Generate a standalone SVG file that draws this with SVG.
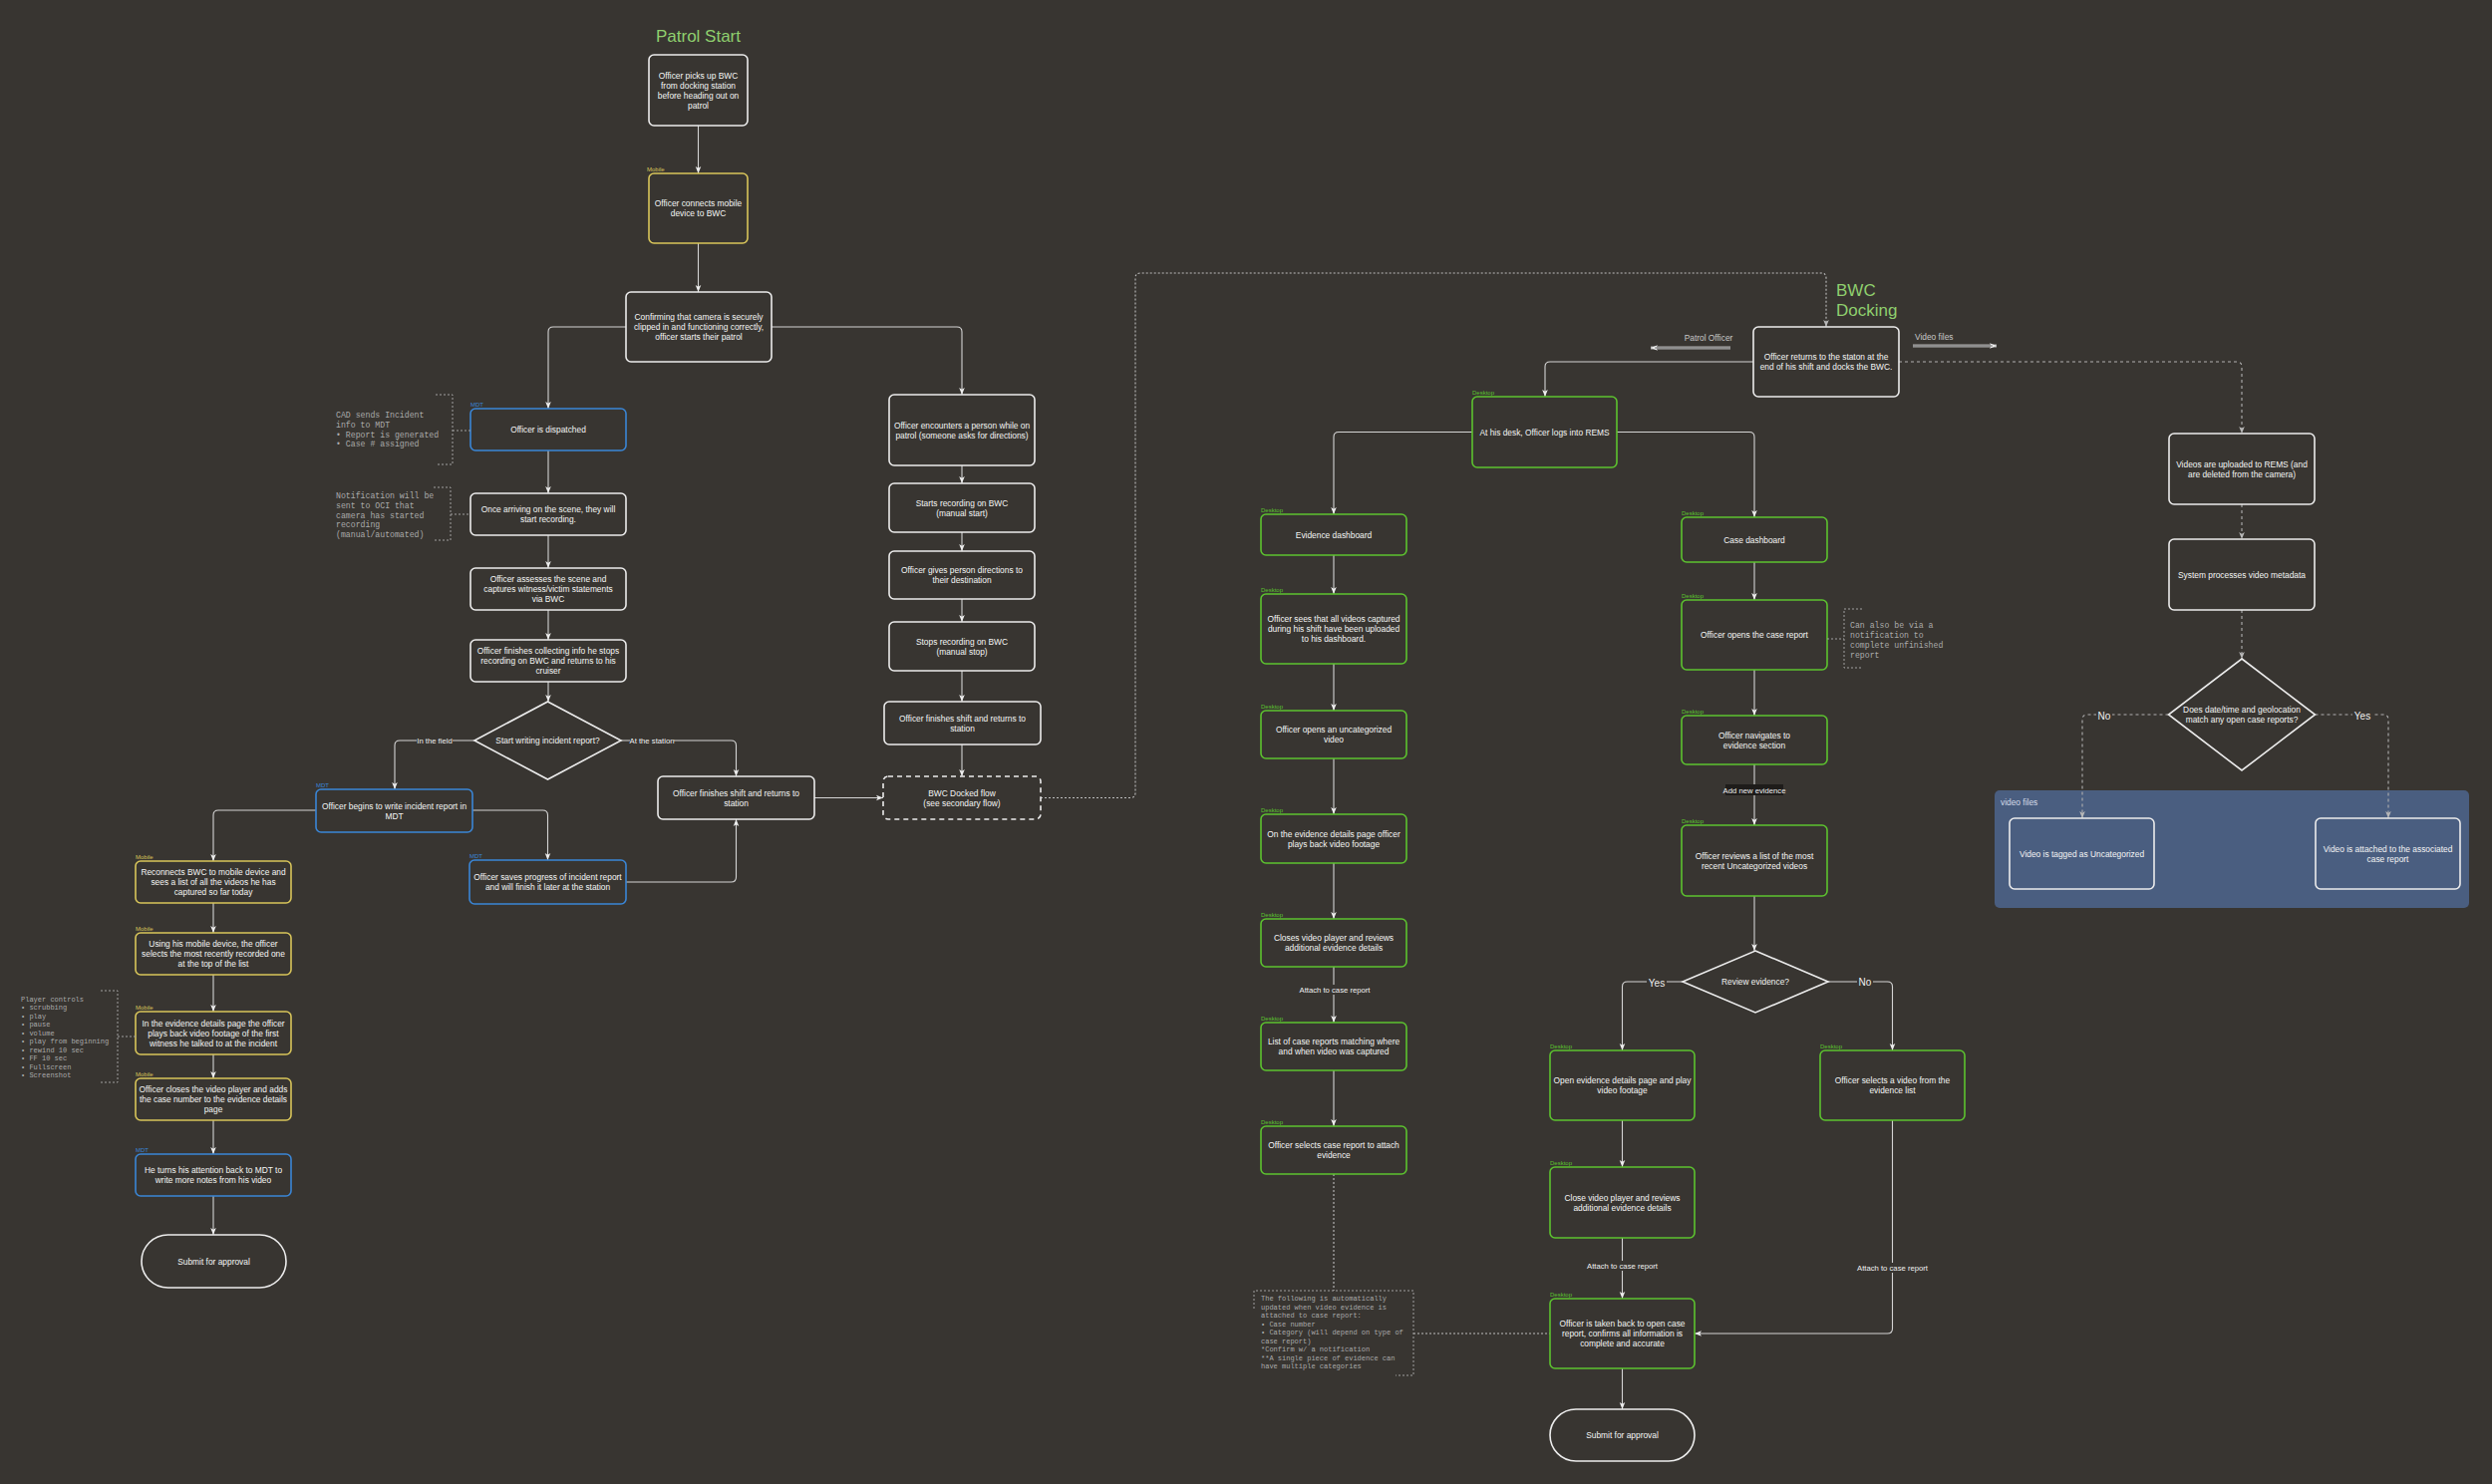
<svg xmlns="http://www.w3.org/2000/svg" width="2500" height="1489" viewBox="0 0 2500 1489">
<defs>
<marker id="a" viewBox="0 0 10 10" refX="10" refY="5" markerWidth="7" markerHeight="7" markerUnits="userSpaceOnUse" orient="auto"><path d="M0,1 L10,5 L0,9 L2.5,5 z" fill="#eeeeee"/></marker>
<marker id="ag" viewBox="0 0 10 10" refX="10" refY="5" markerWidth="7" markerHeight="7" markerUnits="userSpaceOnUse" orient="auto"><path d="M0,1 L10,5 L0,9 L2.5,5 z" fill="#b8b8b8"/></marker>
<style>
text{font-family:"Liberation Sans",Arial,sans-serif}
.t{fill:#f5f5f5;font-size:8.4px;text-anchor:middle}
.r{fill:none;stroke-width:1.6}
.w{stroke:#ececec}
.y{stroke:#d8c55a}
.b{stroke:#3a86d6}
.g{stroke:#5cc22f}
.lb{font-size:6px}
.ly{fill:#d8c55a}
.lbb{fill:#3a86d6}
.lg{fill:#5cc22f}
.c{fill:none;stroke:#d4d4d4;stroke-width:1.1}
.d{fill:none;stroke:#bdbdbd;stroke-width:1.1;stroke-dasharray:2 2}
.d3{fill:none;stroke:#b0b0b0;stroke-width:1.1;stroke-dasharray:3 3}
.nt{fill:#aaaaaa;font-family:"Liberation Mono","Courier New",monospace;font-size:8.2px}
.ns{fill:#aaaaaa;font-family:"Liberation Mono","Courier New",monospace;font-size:7px}
.nb{fill:none;stroke:#a0a0a0;stroke-width:1;stroke-dasharray:2 2}
.el{fill:#f0f0f0;font-size:7.7px;text-anchor:middle}
.yn{fill:#f0f0f0;font-size:10px;text-anchor:middle}
.ttl{fill:#8fcf6e;font-size:17px}
</style>
</defs>
<rect width="2500" height="1489" fill="#383531"/>

<text class="ttl" x="700.5" y="42" text-anchor="middle">Patrol Start</text>
<text class="ttl" x="1842"><tspan x="1842" y="297">BWC</tspan><tspan x="1842" y="317">Docking</tspan></text>

<g id="container-video-files">
<rect x="2001" y="793" width="476" height="118" rx="5" fill="#4a5e80"/>
<text x="2007" y="808" fill="#d6dcea" font-size="8.4px">video files</text>
</g>

<g id="connectors">
<path class="c" marker-end="url(#a)" d="M700.5,126 V174"/>
<path class="c" marker-end="url(#a)" d="M700.5,244 V293"/>
<path class="c" marker-end="url(#a)" d="M628,328 H555 Q550,328 550,333 V410"/>
<path class="c" marker-end="url(#a)" d="M774,328 H960 Q965,328 965,333 V396"/>
<path class="c" marker-end="url(#a)" d="M550,452 V495"/>
<path class="c" marker-end="url(#a)" d="M550,537 V570"/>
<path class="c" marker-end="url(#a)" d="M550,612 V642"/>
<path class="c" marker-end="url(#a)" d="M550,684 V704"/>
<path class="c" marker-end="url(#a)" d="M476,743 H401 Q396,743 396,748 V792"/>
<path class="c" marker-end="url(#a)" d="M623,743 H733.5 Q738.5,743 738.5,748 V779"/>
<path class="c" marker-end="url(#a)" d="M474,813 H544.5 Q549.5,813 549.5,818 V863"/>
<path class="c" marker-end="url(#a)" d="M628,885 H733.5 Q738.5,885 738.5,880 V822"/>
<path class="c" marker-end="url(#a)" d="M817,800.5 H886"/>
<path class="c" marker-end="url(#a)" d="M317,813 H219 Q214,813 214,818 V864"/>
<path class="c" marker-end="url(#a)" d="M214,906 V936"/>
<path class="c" marker-end="url(#a)" d="M214,978 V1015"/>
<path class="c" marker-end="url(#a)" d="M214,1058 V1082"/>
<path class="c" marker-end="url(#a)" d="M214,1124 V1158"/>
<path class="c" marker-end="url(#a)" d="M214,1200 V1239"/>
<path class="c" marker-end="url(#a)" d="M965,467 V485"/>
<path class="c" marker-end="url(#a)" d="M965,534 V553"/>
<path class="c" marker-end="url(#a)" d="M965,601 V624"/>
<path class="c" marker-end="url(#a)" d="M965,673 V704"/>
<path class="c" marker-end="url(#a)" d="M965,747 V779"/>
<path class="d" marker-end="url(#ag)" d="M1044,800.5 H1134 Q1139,800.5 1139,795.5 V279 Q1139,274 1144,274 H1827 Q1832,274 1832,279 V328"/>
<path class="c" marker-end="url(#a)" d="M1759,363 H1555 Q1550,363 1550,368 V398"/>
<path class="d3" marker-end="url(#ag)" d="M1905,363 H2244 Q2249,363 2249,368 V435"/>
<path class="c" marker-end="url(#a)" d="M1477,433.5 H1343 Q1338,433.5 1338,438.5 V516"/>
<path class="c" marker-end="url(#a)" d="M1622,433.5 H1755 Q1760,433.5 1760,438.5 V519"/>
<path class="c" marker-end="url(#a)" d="M1338,557 V596"/>
<path class="c" marker-end="url(#a)" d="M1338,666 V713"/>
<path class="c" marker-end="url(#a)" d="M1338,761 V817"/>
<path class="c" marker-end="url(#a)" d="M1338,866 V922"/>
<path class="c" marker-end="url(#a)" d="M1338,970 V1026"/>
<path class="c" marker-end="url(#a)" d="M1338,1074 V1130"/>
<path class="d" d="M1338,1178 V1295"/>
<path class="d" d="M1418,1338 H1555"/>
<path class="c" marker-end="url(#a)" d="M1760,564 V602"/>
<path class="c" marker-end="url(#a)" d="M1760,672 V718"/>
<path class="c" marker-end="url(#a)" d="M1760,767 V828"/>
<path class="c" marker-end="url(#a)" d="M1760,899 V954"/>
<path class="c" marker-end="url(#a)" d="M1688,985 H1632.5 Q1627.5,985 1627.5,990 V1054"/>
<path class="c" marker-end="url(#a)" d="M1834,985 H1893.5 Q1898.5,985 1898.5,990 V1054"/>
<path class="c" marker-end="url(#a)" d="M1627.5,1124 V1171"/>
<path class="c" marker-end="url(#a)" d="M1627.5,1242 V1303"/>
<path class="c" marker-end="url(#a)" d="M1898.5,1124 V1333 Q1898.5,1338 1893.5,1338 H1700"/>
<path class="c" marker-end="url(#a)" d="M1627.5,1373 V1414"/>
<path class="d3" marker-end="url(#ag)" d="M2249,506 V541"/>
<path class="d3" marker-end="url(#ag)" d="M2249,612 V661"/>
<path class="d3" marker-end="url(#ag)" d="M2175.5,717 H2094 Q2089,717 2089,722 V821"/>
<path class="d3" marker-end="url(#ag)" d="M2322.5,717 H2391 Q2396,717 2396,722 V821"/>
<path fill="none" stroke="#b0b0b0" stroke-width="3" marker-end="url(#a)" d="M1736,349 H1656"/>
<path fill="none" stroke="#606060" stroke-width="0.8" d="M1736,349 H1660"/>
<path fill="none" stroke="#b0b0b0" stroke-width="3" marker-end="url(#a)" d="M1919,347 H2003"/>
<path fill="none" stroke="#606060" stroke-width="0.8" d="M1919,347 H1999"/>
<g>
<rect x="418" y="738" width="36" height="10" fill="#383531"/>
<text class="el" x="436" y="745.5">In the field</text>
<rect x="632" y="738" width="44" height="10" fill="#383531"/>
<text class="el" x="654" y="745.5">At the station</text>
<rect x="1303" y="988" width="72" height="10" fill="#383531"/>
<text class="el" x="1339" y="995.5">Attach to case report</text>
<rect x="1591" y="1265" width="73" height="10" fill="#383531"/>
<text class="el" x="1627.5" y="1272.5">Attach to case report</text>
<rect x="1862" y="1267" width="73" height="10" fill="#383531"/>
<text class="el" x="1898.5" y="1274.5">Attach to case report</text>
<rect x="1731" y="787" width="58" height="11" fill="#1e1c1a"/>
<text class="el" x="1760" y="795.5">Add new evidence</text>
<rect x="1652" y="980" width="20" height="12" fill="#383531"/>
<text class="yn" x="1662" y="990">Yes</text>
<rect x="1863" y="979" width="16" height="12" fill="#383531"/>
<text class="yn" x="1871" y="989">No</text>
<rect x="2103" y="712" width="16" height="12" fill="#383531"/>
<text class="yn" x="2111" y="722">No</text>
<rect x="2360" y="712" width="20" height="12" fill="#383531"/>
<text class="yn" x="2370" y="722">Yes</text>
<text x="1714" y="342" fill="#c8c8c8" font-size="8.4px" text-anchor="middle">Patrol Officer</text>
<text x="1921" y="341" fill="#c8c8c8" font-size="8.4px">Video files</text>
</g>
</g>

<g id="n1"><rect class="r w" x="651" y="55" width="99" height="71" rx="5"/><text class="t"><tspan x="700.5" y="78.5">Officer picks up BWC</tspan><tspan x="700.5" y="88.5">from docking station</tspan><tspan x="700.5" y="98.5">before heading out on</tspan><tspan x="700.5" y="108.5">patrol</tspan></text></g>
<g id="n2"><text class="lb ly" x="649" y="172">Mobile</text><rect class="r y" x="651" y="174" width="99" height="70" rx="5"/><text class="t"><tspan x="700.5" y="207">Officer connects mobile</tspan><tspan x="700.5" y="217">device to BWC</tspan></text></g>
<g id="n3"><rect class="r w" x="628" y="293" width="146" height="70" rx="5"/><text class="t"><tspan x="701" y="321">Confirming that camera is securely</tspan><tspan x="701" y="331">clipped in and functioning correctly,</tspan><tspan x="701" y="341">officer starts their patrol</tspan></text></g>
<g id="dispatched"><text class="lb lbb" x="472" y="408">MDT</text><rect class="r b" x="472" y="410" width="156" height="42" rx="5"/><text class="t" x="550" y="434">Officer is dispatched</text></g>
<g id="arriving"><rect class="r w" x="472" y="495" width="156" height="42" rx="5"/><text class="t"><tspan x="550" y="514">Once arriving on the scene, they will</tspan><tspan x="550" y="524">start recording.</tspan></text></g>
<g id="assess"><rect class="r w" x="472" y="570" width="156" height="42" rx="5"/><text class="t"><tspan x="550" y="584">Officer assesses the scene and</tspan><tspan x="550" y="594">captures witness/victim statements</tspan><tspan x="550" y="604">via BWC</tspan></text></g>
<g id="collect"><rect class="r w" x="472" y="642" width="156" height="42" rx="5"/><text class="t"><tspan x="550" y="656">Officer finishes collecting info he stops</tspan><tspan x="550" y="666">recording on BWC and returns to his</tspan><tspan x="550" y="676">cruiser</tspan></text></g>
<g id="decision1"><path class="r w" d="M549.5,704 L623,743 L549.5,782 L476,743 Z"/><text class="t" x="549.5" y="746">Start writing incident report?</text></g>
<g id="begins"><text class="lb lbb" x="317" y="790">MDT</text><rect class="r b" x="317" y="792" width="157" height="43" rx="5"/><text class="t"><tspan x="395.5" y="811.5">Officer begins to write incident report in</tspan><tspan x="395.5" y="821.5">MDT</tspan></text></g>
<g id="saves"><text class="lb lbb" x="471" y="861">MDT</text><rect class="r b" x="471" y="863" width="157" height="44" rx="5"/><text class="t"><tspan x="549.5" y="883">Officer saves progress of incident report</tspan><tspan x="549.5" y="893">and will finish it later at the station</tspan></text></g>
<g id="midfinish"><rect class="r w" x="660" y="779" width="157" height="43" rx="5"/><text class="t"><tspan x="738.5" y="798.5">Officer finishes shift and returns to</tspan><tspan x="738.5" y="808.5">station</tspan></text></g>
<g id="docked"><rect x="886" y="779" width="158" height="43" rx="5" fill="none" stroke="#ececec" stroke-width="1.6" stroke-dasharray="5 4"/><text class="t"><tspan x="965" y="798.5">BWC Docked flow</tspan><tspan x="965" y="808.5">(see secondary flow)</tspan></text></g>
<g id="encounter"><rect class="r w" x="892" y="396" width="146" height="71" rx="5"/><text class="t"><tspan x="965" y="429.5">Officer encounters a person while on</tspan><tspan x="965" y="439.5">patrol (someone asks for directions)</tspan></text></g>
<g id="starts"><rect class="r w" x="892" y="485" width="146" height="49" rx="5"/><text class="t"><tspan x="965" y="507.5">Starts recording on BWC</tspan><tspan x="965" y="517.5">(manual start)</tspan></text></g>
<g id="gives"><rect class="r w" x="892" y="553" width="146" height="48" rx="5"/><text class="t"><tspan x="965" y="575">Officer gives person directions to</tspan><tspan x="965" y="585">their destination</tspan></text></g>
<g id="stops"><rect class="r w" x="892" y="624" width="146" height="49" rx="5"/><text class="t"><tspan x="965" y="646.5">Stops recording on BWC</tspan><tspan x="965" y="656.5">(manual stop)</tspan></text></g>
<g id="rfinish"><rect class="r w" x="887" y="704" width="157" height="43" rx="5"/><text class="t"><tspan x="965.5" y="723.5">Officer finishes shift and returns to</tspan><tspan x="965.5" y="733.5">station</tspan></text></g>
<g id="reconnects"><text class="lb ly" x="136" y="862">Mobile</text><rect class="r y" x="136" y="864" width="156" height="42" rx="5"/><text class="t"><tspan x="214" y="878">Reconnects BWC to mobile device and</tspan><tspan x="214" y="888">sees a list of all the videos he has</tspan><tspan x="214" y="898">captured so far today</tspan></text></g>
<g id="using"><text class="lb ly" x="136" y="934">Mobile</text><rect class="r y" x="136" y="936" width="156" height="42" rx="5"/><text class="t"><tspan x="214" y="950">Using his mobile device, the officer</tspan><tspan x="214" y="960">selects the most recently recorded one</tspan><tspan x="214" y="970">at the top of the list</tspan></text></g>
<g id="inevidence"><text class="lb ly" x="136" y="1013">Mobile</text><rect class="r y" x="136" y="1015" width="156" height="43" rx="5"/><text class="t"><tspan x="214" y="1029.5">In the evidence details page the officer</tspan><tspan x="214" y="1039.5">plays back video footage of the first</tspan><tspan x="214" y="1049.5">witness he talked to at the incident</tspan></text></g>
<g id="closesadds"><text class="lb ly" x="136" y="1080">Mobile</text><rect class="r y" x="136" y="1082" width="156" height="42" rx="5"/><text class="t"><tspan x="214" y="1096">Officer closes the video player and adds</tspan><tspan x="214" y="1106">the case number to the evidence details</tspan><tspan x="214" y="1116">page</tspan></text></g>
<g id="heturns"><text class="lb lbb" x="136" y="1156">MDT</text><rect class="r b" x="136" y="1158" width="156" height="42" rx="5"/><text class="t"><tspan x="214" y="1177">He turns his attention back to MDT to</tspan><tspan x="214" y="1187">write more notes from his video</tspan></text></g>
<g id="submitL"><rect class="r w" x="142" y="1239" width="145" height="53" rx="26.5"/><text class="t" x="214.5" y="1268.5">Submit for approval</text></g>

<g id="note-cad"><path class="nb" d="M437,396 H454 V466 H437 M454,432 H472"/><text class="nt"><tspan x="337" y="419">CAD sends Incident</tspan><tspan x="337" y="429">info to MDT</tspan><tspan x="337" y="438.5">• Report is generated</tspan><tspan x="337" y="448">• Case # assigned</tspan></text></g>
<g id="note-notif"><path class="nb" d="M435,489 H452 V542 H435 M452,516 H472"/><text class="nt"><tspan x="337" y="500">Notification will be</tspan><tspan x="337" y="510">sent to OCI that</tspan><tspan x="337" y="519.5">camera has started</tspan><tspan x="337" y="529">recording</tspan><tspan x="337" y="539">(manual/automated)</tspan></text></g>
<g id="note-player"><path class="nb" d="M101,994 H118 V1086 H101 M118,1040 H136"/><text class="ns"><tspan x="21" y="1004.5">Player controls</tspan><tspan x="21" y="1013">• scrubbing</tspan><tspan x="21" y="1021.5">• play</tspan><tspan x="21" y="1030">• pause</tspan><tspan x="21" y="1038.5">• volume</tspan><tspan x="21" y="1047">• play from beginning</tspan><tspan x="21" y="1055.5">• rewind 10 sec</tspan><tspan x="21" y="1064">• FF 10 sec</tspan><tspan x="21" y="1072.5">• Fullscreen</tspan><tspan x="21" y="1081">• Screenshot</tspan></text></g>

<g id="docking"><rect class="r w" x="1759" y="328" width="146" height="70" rx="5"/><text class="t"><tspan x="1832" y="361">Officer returns to the staton at the</tspan><tspan x="1832" y="371">end of his shift and docks the BWC.</tspan></text></g>
<g id="desk"><text class="lb lg" x="1477" y="396">Desktop</text><rect class="r g" x="1477" y="398" width="145" height="71" rx="5"/><text class="t" x="1549.5" y="436.5">At his desk, Officer logs into REMS</text></g>
<g id="evdash"><text class="lb lg" x="1265" y="514">Desktop</text><rect class="r g" x="1265" y="516" width="146" height="41" rx="5"/><text class="t" x="1338" y="539.5">Evidence dashboard</text></g>
<g id="sees"><text class="lb lg" x="1265" y="594">Desktop</text><rect class="r g" x="1265" y="596" width="146" height="70" rx="5"/><text class="t"><tspan x="1338" y="624">Officer sees that all videos captured</tspan><tspan x="1338" y="634">during his shift have been uploaded</tspan><tspan x="1338" y="644">to his dashboard.</tspan></text></g>
<g id="openuncat"><text class="lb lg" x="1265" y="711">Desktop</text><rect class="r g" x="1265" y="713" width="146" height="48" rx="5"/><text class="t"><tspan x="1338" y="735">Officer opens an uncategorized</tspan><tspan x="1338" y="745">video</tspan></text></g>
<g id="onevid"><text class="lb lg" x="1265" y="815">Desktop</text><rect class="r g" x="1265" y="817" width="146" height="49" rx="5"/><text class="t"><tspan x="1338" y="839.5">On the evidence details page officer</tspan><tspan x="1338" y="849.5">plays back video footage</tspan></text></g>
<g id="closesrev"><text class="lb lg" x="1265" y="920">Desktop</text><rect class="r g" x="1265" y="922" width="146" height="48" rx="5"/><text class="t"><tspan x="1338" y="944">Closes video player and reviews</tspan><tspan x="1338" y="954">additional evidence details</tspan></text></g>
<g id="listcases"><text class="lb lg" x="1265" y="1024">Desktop</text><rect class="r g" x="1265" y="1026" width="146" height="48" rx="5"/><text class="t"><tspan x="1338" y="1048">List of case reports matching where</tspan><tspan x="1338" y="1058">and when video was captured</tspan></text></g>
<g id="selcase"><text class="lb lg" x="1265" y="1128">Desktop</text><rect class="r g" x="1265" y="1130" width="146" height="48" rx="5"/><text class="t"><tspan x="1338" y="1152">Officer selects case report to attach</tspan><tspan x="1338" y="1162">evidence</tspan></text></g>
<g id="note-auto"><path class="nb" d="M1258,1313 V1295 H1418 V1380 H1400"/><text class="ns"><tspan x="1265" y="1305">The following is automatically</tspan><tspan x="1265" y="1313.5">updated when video evidence is</tspan><tspan x="1265" y="1322">attached to case report:</tspan><tspan x="1265" y="1330.5">• Case number</tspan><tspan x="1265" y="1339">• Category (will depend on type of</tspan><tspan x="1265" y="1347.5">case report)</tspan><tspan x="1265" y="1356">*Confirm w/ a notification</tspan><tspan x="1265" y="1364.5">**A single piece of evidence can</tspan><tspan x="1265" y="1373">have multiple categories</tspan></text></g>
<g id="casedash"><text class="lb lg" x="1687" y="517">Desktop</text><rect class="r g" x="1687" y="519" width="146" height="45" rx="5"/><text class="t" x="1760" y="544.5">Case dashboard</text></g>
<g id="opencase"><text class="lb lg" x="1687" y="600">Desktop</text><rect class="r g" x="1687" y="602" width="146" height="70" rx="5"/><text class="t" x="1760" y="640">Officer opens the case report</text></g>
<g id="note-canalso"><path class="nb" d="M1868,611 H1850 V670 H1868 M1833,641 H1850"/><text class="nt"><tspan x="1856" y="630">Can also be via a</tspan><tspan x="1856" y="640">notification to</tspan><tspan x="1856" y="650">complete unfinished</tspan><tspan x="1856" y="660">report</tspan></text></g>
<g id="navig"><text class="lb lg" x="1687" y="716">Desktop</text><rect class="r g" x="1687" y="718" width="146" height="49" rx="5"/><text class="t"><tspan x="1760" y="740.5">Officer navigates to</tspan><tspan x="1760" y="750.5">evidence section</tspan></text></g>
<g id="reviews"><text class="lb lg" x="1687" y="826">Desktop</text><rect class="r g" x="1687" y="828" width="146" height="71" rx="5"/><text class="t"><tspan x="1760" y="861.5">Officer reviews a list of the most</tspan><tspan x="1760" y="871.5">recent Uncategorized videos</tspan></text></g>
<g id="decision2"><path class="r w" d="M1761,954 L1834,985 L1761,1016 L1688,985 Z"/><text class="t" x="1761" y="988">Review evidence?</text></g>
<g id="openevid"><text class="lb lg" x="1555" y="1052">Desktop</text><rect class="r g" x="1555" y="1054" width="145" height="70" rx="5"/><text class="t"><tspan x="1627.5" y="1087">Open evidence details page and play</tspan><tspan x="1627.5" y="1097">video footage</tspan></text></g>
<g id="selvid"><text class="lb lg" x="1826" y="1052">Desktop</text><rect class="r g" x="1826" y="1054" width="145" height="70" rx="5"/><text class="t"><tspan x="1898.5" y="1087">Officer selects a video from the</tspan><tspan x="1898.5" y="1097">evidence list</tspan></text></g>
<g id="closevid"><text class="lb lg" x="1555" y="1169">Desktop</text><rect class="r g" x="1555" y="1171" width="145" height="71" rx="5"/><text class="t"><tspan x="1627.5" y="1204.5">Close video player and reviews</tspan><tspan x="1627.5" y="1214.5">additional evidence details</tspan></text></g>
<g id="takenback"><text class="lb lg" x="1555" y="1301">Desktop</text><rect class="r g" x="1555" y="1303" width="145" height="70" rx="5"/><text class="t"><tspan x="1627.5" y="1331">Officer is taken back to open case</tspan><tspan x="1627.5" y="1341">report, confirms all information is</tspan><tspan x="1627.5" y="1351">complete and accurate</tspan></text></g>
<g id="submitR"><rect class="r w" x="1555" y="1414" width="145" height="52" rx="26"/><text class="t" x="1627.5" y="1443">Submit for approval</text></g>

<g id="uploaded"><rect class="r w" x="2176" y="435" width="146" height="71" rx="5"/><text class="t"><tspan x="2249" y="468.5">Videos are uploaded to REMS (and</tspan><tspan x="2249" y="478.5">are deleted from the camera)</tspan></text></g>
<g id="processes"><rect class="r w" x="2176" y="541" width="146" height="71" rx="5"/><text class="t" x="2249" y="579.5">System processes video metadata</text></g>
<g id="decision3"><path class="r w" d="M2249,661 L2322.5,717 L2249,773 L2175.5,717 Z"/><text class="t"><tspan x="2249" y="715">Does date/time and geolocation</tspan><tspan x="2249" y="725">match any open case reports?</tspan></text></g>
<g id="tagged"><rect class="r w" x="2016" y="821" width="145" height="71" rx="5"/><text class="t" x="2088.5" y="859.5">Video is tagged as Uncategorized</text></g>
<g id="attached"><rect class="r w" x="2323" y="821" width="145" height="71" rx="5"/><text class="t"><tspan x="2395.5" y="854.5">Video is attached to the associated</tspan><tspan x="2395.5" y="864.5">case report</tspan></text></g>
</svg>
